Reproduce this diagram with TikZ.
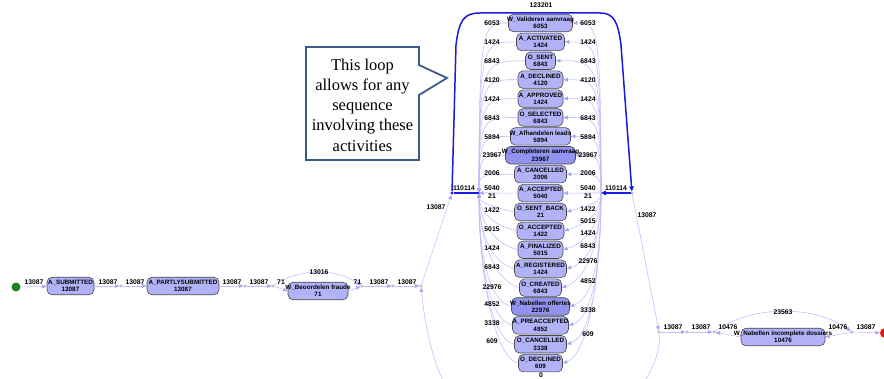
\documentclass[tikz,border=0pt]{standalone}
\usepackage{fontspec}
\setmainfont{Liberation Sans}
\newfontfamily\calloutfont{Liberation Serif}
\usetikzlibrary{arrows.meta,calc}
\definecolor{actfill}{RGB}{178,178,248}
\definecolor{actdark}{RGB}{146,146,240}
\definecolor{edgec}{RGB}{192,192,252}
\definecolor{arrc}{RGB}{165,165,245}
\definecolor{loopc}{RGB}{25,25,225}
\definecolor{callc}{RGB}{60,90,135}
\definecolor{startc}{RGB}{30,130,30}
\definecolor{endc}{RGB}{235,20,20}
\newcommand{\actbox}[7]{%
  \node[#5, minimum width=#4] (#1) at (#2,#3) {};
  \node[acttext] (#1t) at (#1.center) {#6\\#7};
}
\begin{document}
\begin{tikzpicture}[x=1pt,y=-1pt,
  act/.style={draw=black!72, line width=0.6pt, fill=actfill, rounded corners=5pt, minimum height=17.5pt, inner sep=0pt},
  actd/.style={act, fill=actdark},
  acttext/.style={font=\fontsize{6.3}{7.2}\selectfont\bfseries, align=center, inner sep=0pt},
  lbl/.style={font=\fontsize{6.8}{7.4}\selectfont\bfseries, inner sep=0pt},
  lightedge/.style={draw=edgec, line width=0.6pt},
  larr/.style={lightedge, -{Triangle[length=4.5pt,width=3.6pt,color=arrc]}},
  dotn/.style={circle, draw=black!45, fill=white, line width=0.4pt, inner sep=0pt, minimum size=2.6pt},
  bluepath/.style={draw=loopc, line width=1.5pt},
  bluearr/.style={bluepath, -{Triangle[length=5pt,width=4.5pt]}},
]
\useasboundingbox (0,0) rectangle (884,379);
\clip (0,0) rectangle (884,379);

% ---------- central column ----------
\actbox{n0}{540.5}{23}{64pt}{act}{W\_Valideren aanvraag}{6053}
\actbox{n1}{540.5}{41.9}{48pt}{act}{A\_ACTIVATED}{1424}
\actbox{n2}{540.5}{60.8}{30pt}{act}{O\_SENT}{6843}
\actbox{n3}{540.5}{79.7}{45pt}{act}{A\_DECLINED}{4120}
\actbox{n4}{540.5}{98.6}{45pt}{act}{A\_APPROVED}{1424}
\actbox{n5}{540.5}{117.5}{45pt}{act}{O\_SELECTED}{6843}
\actbox{n6}{540.5}{136.4}{60pt}{act}{W\_Afhandelen leads}{5894}
\actbox{n7}{540.5}{155.3}{70pt}{actd}{W\_Completeren aanvraag}{23967}
\actbox{n8}{540.5}{174.2}{52pt}{act}{A\_CANCELLED}{2006}
\actbox{n9}{540.5}{193.1}{45pt}{act}{A\_ACCEPTED}{5040}
\actbox{n10}{540.5}{212}{52pt}{act}{O\_SENT\_BACK}{21}
\actbox{n11}{540.5}{230.9}{47pt}{act}{O\_ACCEPTED}{1422}
\actbox{n12}{540.5}{249.8}{45pt}{act}{A\_FINALIZED}{5015}
\actbox{n13}{540.5}{268.7}{52pt}{act}{A\_REGISTERED}{1424}
\actbox{n14}{540.5}{287.6}{42pt}{act}{O\_CREATED}{6843}
\actbox{n15}{540.5}{306.5}{58pt}{actd}{W\_Nabellen offertes}{22976}
\actbox{n16}{540.5}{325.4}{56pt}{act}{A\_PREACCEPTED}{4852}
\actbox{n17}{540.5}{344.3}{52pt}{act}{O\_CANCELLED}{3338}
\actbox{n18}{540.5}{363.2}{44pt}{act}{O\_DECLINED}{609}

\coordinate (L) at (479,193);
\coordinate (R) at (601,193);

% upper half: curves hugging the bus
\foreach \i in {0,...,8} {
  \draw[larr] (n\i.west) .. controls ($(L |- n\i.west)+(4,0)$) and (L |- n\i.west) .. (L);
  \draw[larr] (R) .. controls (R |- n\i.east) and ($(R |- n\i.east)+(-4,0)$) .. (n\i.east);
}
% lower half: diagonal curves
\foreach \i in {10,...,18} {
  \draw[larr] (n\i.west) .. controls ($(n\i.west)+(-25,-6)$) and ($(L)!0.45!(L |- n\i.west)$) .. (L);
  \draw[larr] (R) .. controls ($(R)!0.5!(R |- n\i.east)$) and ($(n\i.east)+(25,-8)$) .. (n\i.east);
}
\draw[larr] (n9.west) -- (L);
\draw[larr] (R) -- (n9.east);

% left labels
\foreach \t/\y in {6053/23,1424/42,6843/61,4120/80,1424/99,6843/118,5894/137,23967/155,2006/173,5040/188,21/196,1422/210,5015/229,1424/248,6843/267,22976/287,4852/304,3338/323,609/341}
  \node[lbl] at (492,\y) {\t};
% right labels
\foreach \t/\y in {6053/23,1424/42,6843/61,4120/80,1424/99,6843/118,5894/137,23967/155,2006/173,5040/188,21/196,1422/209,5015/221,1424/233,6843/246,22976/261,4852/281,3338/310,609/334}
  \node[lbl] at (588,\y) {\t};

% ---------- hubs and blue loop ----------
\node[circle, fill=loopc, inner sep=0pt, minimum size=3.4pt] (HL) at (452,193) {};
\node[dotn] (HR) at (632,193) {};
\draw[bluepath] (L) -- (HL);
\draw[bluearr] (HL) -- (456,45) .. controls (459,20) and (464,13) .. (480,13) -- (600,13) .. controls (614,13) and (618,22) .. (621,45) -- (HR);
\draw[bluearr] (HR) -- (R);
\node[lbl] (looplbl) at (541,5) {123201};
\node[lbl] (hll) at (464,188) {110114};
\node[lbl] (hrl) at (616,188) {110114};
\node[lbl] (zero) at (541,375) {0};

% ---------- left chain ----------
\node[circle, fill=startc, inner sep=0pt, minimum size=9pt] (start) at (16,287) {};
\actbox{asub}{70.5}{286}{47pt}{act}{A\_SUBMITTED}{13087}
\node[dotn] (d1) at (121,286) {};
\actbox{apart}{183}{286}{72pt}{act}{A\_PARTLYSUBMITTED}{13087}
\node[dotn] (d2) at (245,286) {};
\node[dotn] (d3) at (273,286) {};
\actbox{wbeo}{318}{291}{60pt}{act}{W\_Beoordelen fraude}{71}
\node[dotn] (d4) at (362,286) {};
\node[dotn] (d5) at (393,286) {};
\node[dotn] (d6) at (421,286) {};

\draw[larr] (start) -- (asub);
\draw[larr] (asub) -- (d1);
\draw[larr] (d1) -- (apart);
\draw[larr] (apart) -- (d2);
\draw[larr] (d2) -- (d3);
\draw[larr] (d3) -- (wbeo.west);
\draw[larr] (wbeo.east) -- (d4);
\draw[larr] (d3) .. controls (300,268) and (335,268) .. (d4);
\draw[larr] (d4) -- (d5);
\draw[larr] (d5) -- (d6);
\draw[larr] (d6) -- (HL);

\foreach \t/\x in {13087/34,13087/108,13087/135,13087/232,13087/259,71/281,71/357.5,13087/379,13087/407}
  \node[lbl] at (\x,282) {\t};
\node[lbl] at (319,272) {13016};
\node[lbl] at (436,207) {13087};

% ---------- right chain ----------
\node[dotn] (e1) at (659,332) {};
\node[dotn] (e2) at (687,332) {};
\node[dotn] (e3) at (714,332) {};
\node[act, minimum width=84pt] (wnab) at (783,337) {};
\node[acttext] (wnabt) at (wnab.center) {W\_Nabellen incomplete dossiers\\10476};
\node[dotn] (e4) at (852,332) {};
\node[circle, fill=endc, inner sep=0pt, minimum size=10pt] (finish) at (885,333) {};

\draw[larr] (HR) -- (e1);
\draw[larr] (e1) -- (e2);
\draw[larr] (e2) -- (e3);
\draw[larr] (wnab.west) -- (e3);
\draw[larr] (e4) -- (wnab.east);
\draw[larr] (e3) .. controls (750,305) and (815,305) .. (e4);
\draw[larr] (e4) -- (finish);
\draw[larr] (e1) .. controls (662,360) and (640,400) .. (600,420) -- (480,420) .. controls (440,410) and (425,330) .. (d6);

\node[lbl] at (647,215) {13087};
\foreach \t/\x in {13087/673,13087/701,10476/728,10476/838,13087/866}
  \node[lbl] at (\x,327.5) {\t};
\node[lbl] at (783,312) {23563};

% ---------- callout ----------
\draw[callc, line width=1.8pt, fill=white, line join=miter] (306,47) -- (419,47) -- (419,65) -- (447,78) -- (419,95) -- (419,160) -- (306,160) -- cycle;
\node[font=\calloutfont\fontsize{16.5}{20.3}\selectfont, align=center, inner sep=0pt] (callout) at (362.5,105) {This loop\\allows for any\\sequence\\involving these\\activities};
\end{tikzpicture}
\end{document}
